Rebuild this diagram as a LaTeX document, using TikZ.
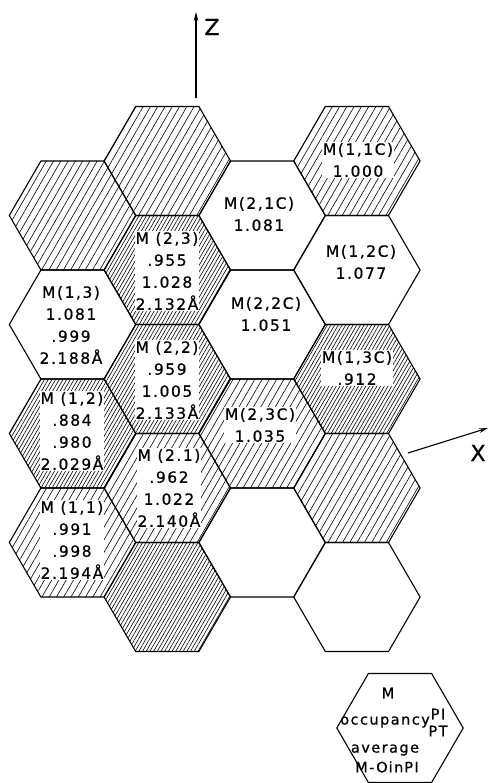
\documentclass[tikz,border=0pt]{standalone}
\usepackage{fontspec}
\setmainfont{DejaVu Sans}[LetterSpace=10,FakeBold=0.6]
\newfontfamily\axfont{DejaVu Sans}[FakeBold=0.6]
\usetikzlibrary{patterns.meta,arrows.meta}
\tikzset{
  hexline/.style={line width=1.1pt, line join=miter},
  hreg/.style={pattern={Lines[angle=60,distance=6.3pt,line width=0.6pt]}},
  hden/.style={pattern={Lines[angle=60,distance=3.2pt,line width=0.6pt]}},
  lbl/.style={align=center, font=\fontsize{15.5}{22}\selectfont, inner sep=1pt},
  wlbl/.style={lbl, fill=white},
  leg/.style={align=center, font=\fontsize{14.5}{16}\selectfont, inner sep=0pt},
  axlbl/.style={font=\axfont\fontsize{22}{22}\selectfont, inner sep=0pt},
  axis/.style={line width=1.1pt, -{Stealth[length=9pt,width=4.5pt]}},
}
\newcommand\hexcell[3]{\path[hexline,draw,#1,shift={(#2,#3)}] (63.2,0) -- (31.6,54.5) -- (-31.6,54.5) -- (-63.2,0) -- (-31.6,-54.5) -- (31.6,-54.5) -- cycle;}
\begin{document}
\begin{tikzpicture}[x=1pt,y=-1pt]
\useasboundingbox (0,0) rectangle (489,783);
% column 1
\hexcell{hreg}{72.5}{215.5}
\hexcell{}{72.5}{324.5}
\hexcell{hden}{72.5}{433.5}
\hexcell{hreg}{72.5}{542.5}
% column 2
\hexcell{hreg}{167.3}{161}
\hexcell{hden}{167.3}{270}
\hexcell{hden}{167.3}{379}
\hexcell{hreg}{167.3}{488}
\hexcell{hden}{167.3}{597}
% column 3
\hexcell{}{262.1}{215.5}
\hexcell{}{262.1}{324.5}
\hexcell{hreg}{262.1}{433.5}
\hexcell{}{262.1}{542.5}
% column 4
\hexcell{hreg}{356.9}{161}
\hexcell{}{356.9}{270}
\hexcell{hden}{356.9}{379}
\hexcell{hreg}{356.9}{488}
\hexcell{}{356.9}{597}
% legend hexagon
\hexcell{}{400}{728}

% labels
\node[lbl]  (m13)  at (71,325)  {M(1,3)\\1.081\\.999\\2.188Å};
\node[wlbl] (m12)  at (72,431)  {M (1,2)\\.884\\.980\\2.029Å};
\node[wlbl] (m11)  at (72,540)  {M (1,1)\\.991\\.998\\2.194Å};
\node[wlbl] (m23)  at (167,271) {M (2,3)\\.955\\1.028\\2.132Å};
\node[wlbl] (m22)  at (167,380) {M (2,2)\\.959\\1.005\\2.133Å};
\node[wlbl] (m21)  at (169,488) {M (2.1)\\.962\\1.022\\2.140Å};
\node[lbl]  (m21c) at (259,214) {M(2,1C)\\1.081};
\node[lbl]  (m22c) at (266,314) {M(2,2C)\\1.051};
\node[wlbl] (m23c) at (260,425) {M(2,3C)\\1.035};
\node[wlbl] (m11c) at (358,160) {M(1,1C)\\1.000};
\node[lbl]  (m12c) at (361,262) {M(1,2C)\\1.077};
\node[wlbl] (m13c) at (357,368) {M(1,3C)\\.912};

% legend
\node[leg] (lm)  at (388,693) {M};
\node[leg] (loc) at (385,722) {occupancy};
\node[leg] (lpi) at (438,714) {PI};
\node[leg] (lpt) at (438,731) {PT};
\node[leg] (lav) at (385,750) {average};
\node[leg] (lmo) at (387,767) {M-O\hspace{1pt}in\hspace{1pt}PI};

% axes
\coordinate (z0) at (196,98);
\coordinate (z1) at (196,12);
\draw[axis] (z0) -- (z1);
\node[axlbl] (zl) at (212,27) {Z};
\coordinate (x0) at (408,453);
\coordinate (x1) at (488,428);
\draw[axis] (x0) -- (x1);
\node[axlbl] (xl) at (478,453) {X};
\end{tikzpicture}
\end{document}
